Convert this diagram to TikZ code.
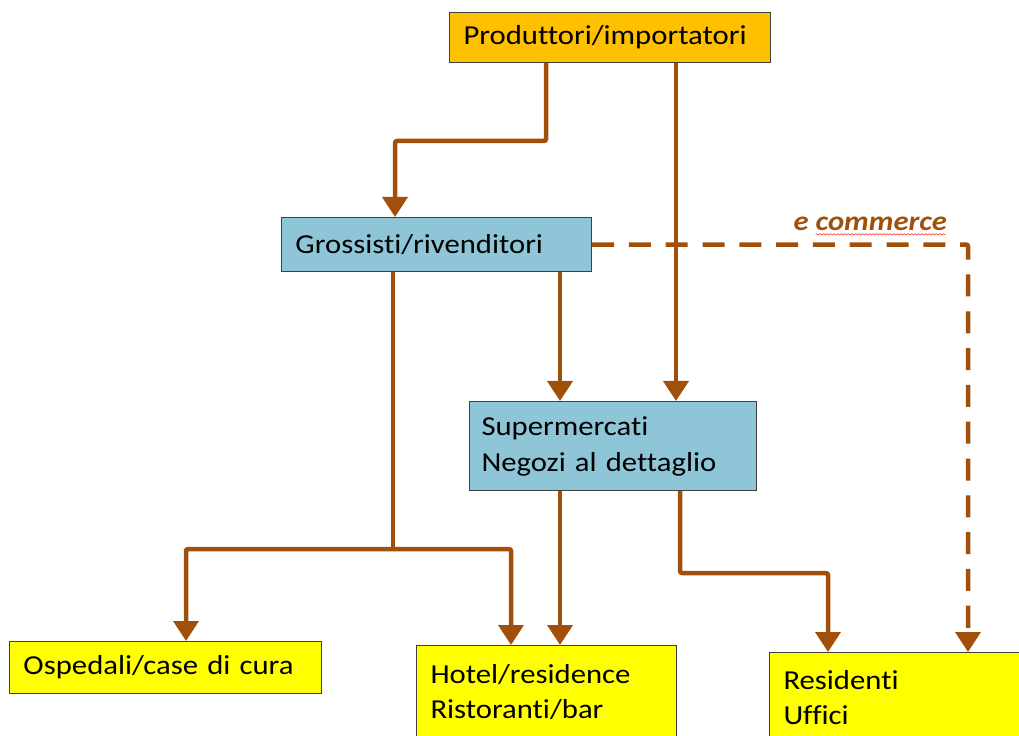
\documentclass[tikz,border=0pt]{standalone}
\usepackage{fontspec}
\setmainfont[FakeStretch=1.12, Ligatures=NoCommon]{Carlito}
\usetikzlibrary{%
  arrows.meta,%
  decorations.pathmorphing% wg. snake | Unterstreichung
}
\definecolor{prodorange}{HTML}{FFC000}
\definecolor{grossblue}{HTML}{8EC6D8}
\definecolor{endyellow}{HTML}{FFFF00}
\definecolor{flowbrown}{HTML}{A0500A}

\begin{document}
\begin{tikzpicture}[x=0.025cm,y=-0.025cm,
    box/.style={draw=black!75, line width=0.7pt, anchor=north west, align=left,
      inner xsep=0.35cm, inner ysep=0pt, font=\fontsize{19.5}{25.5}\selectfont},
    flow/.style={draw=flowbrown, line width=3.2pt, rounded corners=1.5pt},
    flowarrow/.style={flow, -{Triangle[length=0.5cm,width=0.62cm]}},
    ecommerce/.style={flowarrow, dash pattern=on 0.55cm off 0.37cm}]
    \useasboundingbox (0,0) rectangle (1019,736);
    \clip (0,0) rectangle (1019,736);

    \node[box, fill=prodorange, text width=7.325cm, minimum height=1.25cm] (prod) at (449,12) {Produttori/importatori};
    \node[box, fill=grossblue, text width=7.05cm, minimum height=1.35cm] (gross) at (281,217) {Grossisti/rivenditori};
    \node[box, fill=grossblue, text width=6.575cm, minimum height=2.225cm, inner xsep=0.3cm] (super) at (469,401) {Supermercati\\Negozi al dettaglio};
    %end users
    \node[box, fill=endyellow, text width=7.1cm, minimum height=1.3cm] (osp) at (9,641) {Ospedali/case di cura};
    \node[box, fill=endyellow, text width=5.8cm, minimum height=2.325cm] (hotel) at (416,645) {Hotel/residence\\Ristoranti/bar};
    \node[box, fill=endyellow, text width=6.075cm, minimum height=2.25cm] (resid) at (769,652) {Residenti\\Uffici};

    %producers
    \draw[flowarrow] ([shift={(97,0)}]prod.south west) -- ++(0,78) -| ([shift={(114,0)}]gross.north west);
    \draw[flowarrow] ([shift={(227,0)}]prod.south west) -- ([shift={(207,0)}]super.north west);

    %e commerce
    \draw[ecommerce] (gross.east) -| node[pos=0.37, above=5pt, font=\fontsize{19.5}{25.5}\selectfont\bfseries\itshape, text=flowbrown] (ecom) {e commerce} ([shift={(199,0)}]resid.north west);
    \draw[red!85, line width=0.4pt, decorate, decoration={snake, amplitude=0.5pt, segment length=2.5pt}]
      ([shift={(29,4)}]ecom.base west) -- ([shift={(-8,4)}]ecom.base east);

    %wholesalers
    \draw[flowarrow] ([shift={(279,0)}]gross.south west) -- ([shift={(91,0)}]super.north west);
    \coordinate (split) at ([shift={(112,277)}]gross.south west);
    \draw[flow] ([shift={(112,0)}]gross.south west) -- (split);
    \draw[flowarrow] (split) -| ([shift={(177,0)}]osp.north west);
    \draw[flowarrow] (split) -| ([shift={(95,0)}]hotel.north west);

    %retail
    \draw[flowarrow] ([shift={(91,0)}]super.south west) -- ([shift={(144,0)}]hotel.north west);
    \draw[flowarrow] ([shift={(211,0)}]super.south west) -- ++(0,82) -| ([shift={(59,0)}]resid.north west);
\end{tikzpicture}
\end{document}
